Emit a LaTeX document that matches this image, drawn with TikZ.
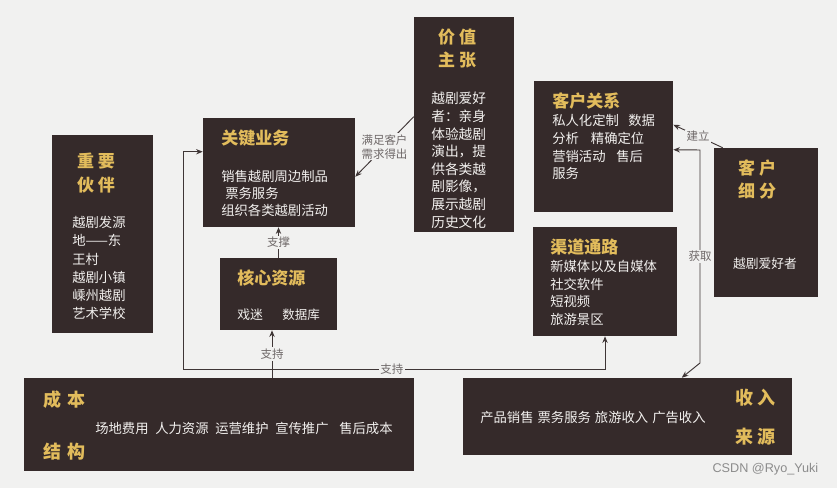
\documentclass[tikz,border=0pt]{standalone}
\usepackage{fontspec}
\setmainfont{Noto Sans CJK SC}
\newfontfamily\wmfont{Liberation Sans}
\usetikzlibrary{arrows.meta,fit,calc}
\definecolor{boxc}{HTML}{352A2A}
\definecolor{goldc}{HTML}{E2BC5C}
\definecolor{bodyc}{HTML}{F2F0EE}
\definecolor{linec}{HTML}{3F3636}
\definecolor{labc}{HTML}{6E6868}
\definecolor{bgc}{HTML}{F1F1F0}
\begin{document}
\begin{tikzpicture}[x=0.75pt,y=-0.75pt,
  box/.style={fill=boxc, draw=none, inner sep=0pt},
  ttl/.style={text=goldc, inner sep=0pt, font=\fontsize{12.75}{17.25}\selectfont\bfseries},
  bigttl/.style={text=goldc, inner sep=0pt, font=\fontsize{13.5}{16}\selectfont\bfseries},
  bodyt/.style={text=bodyc, inner sep=0pt, font=\fontsize{10}{13.3}\selectfont},
  conn/.style={draw=linec, line width=0.7pt},
  arr/.style={conn, -{Stealth[length=5pt,width=4pt]}},
  lab/.style={text=labc, fill=bgc, inner sep=1pt, font=\fontsize{8.6}{10.5}\selectfont}]
\fill[bgc] (0,0) rectangle (837,488);
\useasboundingbox (0,0) rectangle (837,488);

% boxes
\node[box, fit={(52,135)(153,333)}] (kp) {};
\node[box, fit={(203,118)(355,227)}] (ka) {};
\node[box, fit={(414,17)(514,232)}] (vp) {};
\node[box, fit={(534,81)(673,212)}] (cr) {};
\node[box, fit={(714,148)(818,297)}] (cs) {};
\node[box, fit={(533,227)(677,336)}] (ch) {};
\node[box, fit={(220,258)(337,330)}] (kr) {};
\node[box, fit={(24,378)(414,471)}] (cost) {};
\node[box, fit={(463,378)(792,455)}] (rev) {};

% 重要伙伴
\node[ttl, anchor=north, align=center, font=\fontsize{12.75}{18}\selectfont\bfseries] (kpt) at (96,153) {重\hspace{3pt}要\\伙\hspace{3pt}伴};
\node[bodyt, anchor=north west, align=left, font=\fontsize{10}{13.7}\selectfont] (kpb) at (72,216)
  {越剧发源\\地——东\\王村\\越剧小镇\\嵊州越剧\\艺术学校};

% 关键业务
\node[ttl, anchor=west] (kat) at (221,138) {关键业务};
\node[bodyt, anchor=north west, align=left, font=\fontsize{10}{12.75}\selectfont] (kab) at (221,170)
  {销售越剧周边制品\\\hspace*{3pt}票务服务\\组织各类越剧活动};

% 价值主张
\node[ttl, anchor=north, align=center] (vpt) at (457,29) {价\hspace{3pt}值\\主\hspace{3pt}张};
\node[bodyt, anchor=north west, align=left, font=\fontsize{10.3}{13.2}\selectfont] (vpb) at (431,92)
  {越剧爱好\\者：亲身\\体验越剧\\演出，提\\供各类越\\剧影像，\\展示越剧\\历史文化};

% 客户关系
\node[ttl, anchor=west] (crt) at (552,101) {客户关系};
\node[bodyt, anchor=north west, align=left] (crb) at (552,114)
  {私人化定制\hspace{7pt}数据\\分析\hspace{9pt}精确定位\\营销活动\hspace{8pt}售后\\服务};

% 客户细分
\node[ttl, anchor=north, align=center] (cst) at (757,159) {客\hspace{3pt}户\\细\hspace{3pt}分};
\node[bodyt, font=\fontsize{9.6}{12}\selectfont] (csb) at (765,264) {越剧爱好者};

% 渠道通路
\node[ttl, anchor=west] (cht) at (550,247) {渠道通路};
\node[bodyt, anchor=north west, align=left] (chb) at (550,260)
  {新媒体以及自媒体\\社交软件\\短视频\\旅游景区};

% 核心资源
\node[ttl, anchor=west] (krt) at (237,278) {核心资源};
\node[bodyt, anchor=west, font=\fontsize{9.6}{12}\selectfont] (krb1) at (237,315) {戏迷};
\node[bodyt, anchor=west, font=\fontsize{9.4}{12}\selectfont] (krb2) at (282,315) {数据库};

% 成本结构
\node[bigttl, anchor=west] (cot1) at (43,400) {成\hspace{5pt}本};
\node[bigttl, anchor=west] (cot2) at (43,452) {结\hspace{5pt}构};
\node[bodyt, anchor=west] (cob) at (95,428)
  {场地费用\hspace{5pt}人力资源\hspace{5pt}运营维护\hspace{5pt}宣传推广\hspace{8pt}售后成本};

% 收入来源
\node[bigttl, anchor=west] (rvt1) at (735,398) {收\hspace{3pt}入};
\node[bigttl, anchor=west] (rvt2) at (735,437) {来\hspace{3pt}源};
\node[bodyt, anchor=west] (rvb) at (480,417)
  {产品销售\hspace{3pt}票务服务\hspace{3pt}旅游收入\hspace{3pt}广告收入};

% connectors
\coordinate (jn) at (272,369);
\coordinate (lc) at (183,369);
\coordinate (kain) at ($(ka.north west)+(0,34)$);
\draw[arr] (cost.north -| jn) -- (kr.south -| jn) node[lab, midway] {支持};
\draw[arr] (kr.north) -- (kr.north |- ka.south) node[lab, midway] {支撑};
\draw[arr] (jn) -- (lc) |- (kain);
\draw[arr] (jn) -| (ch.south) node[lab, pos=0.18] {支持};

\coordinate (vpa) at ($(vp.north west)+(0,100)$);
\coordinate (kaa) at ($(ka.north east)+(0,59)$);
\draw[arr] (vpa) -- (kaa) node[lab, midway, align=center] {满足客户\\需求得出};

\coordinate (csa) at ($(cs.north west)+(9,0)$);
\coordinate (cra) at ($(cr.north east)+(0,44)$);
\draw[arr] (csa) -- (cra) node[lab, midway] {建立};

\coordinate (crg) at ($(cr.north east)+(0,69)$);
\coordinate (g1) at (700,150);
\coordinate (g2) at (700,363);
\coordinate (rvg) at ($(rev.north west)+(219,0)$);
\draw[conn, {Stealth[length=5pt,width=4pt]}-{Stealth[length=5pt,width=4pt]}] (crg) -- (g1) -- (g2) node[lab, midway] {获取} -- (rvg);

% watermark
\node[text=black!45, font=\wmfont\fontsize{9.5}{11}\selectfont, anchor=east] (wm) at (823,469) {CSDN @Ryo\_Yuki};
\end{tikzpicture}
\end{document}
